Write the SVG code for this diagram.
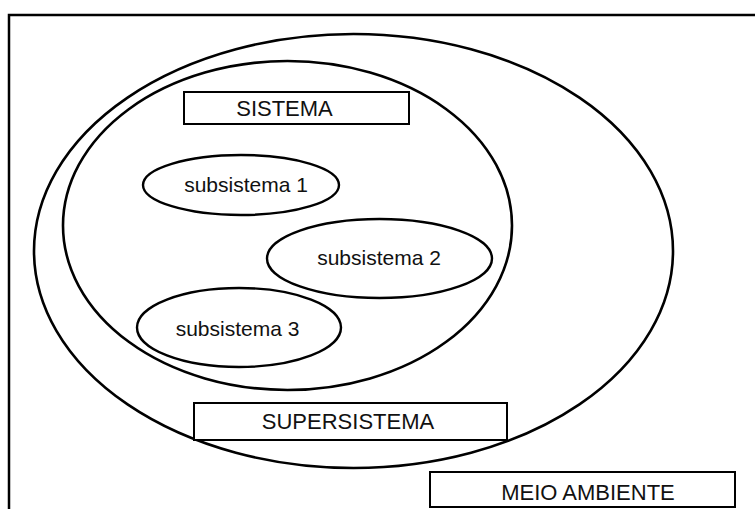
<svg xmlns="http://www.w3.org/2000/svg" width="755" height="509" viewBox="0 0 755 509">
  <style>
    .frame { fill: none; stroke: #000; stroke-width: 2.5; }
    .ring { fill: none; stroke: #000; stroke-width: 2.6; }
    .sub { fill: #fff; stroke: #000; stroke-width: 2.4; }
    .box { fill: #fff; stroke: #000; stroke-width: 2; }
    .lbl { font-family: "Liberation Sans", Arial, sans-serif; font-size: 22px; fill: #111; text-anchor: middle; }
    .sublbl { font-family: "Liberation Sans", Arial, sans-serif; font-size: 21px; fill: #111; text-anchor: middle; }
  </style>
  <rect width="755" height="509" fill="#fff"/>

  <!-- environment frame, running off the right and bottom edges -->
  <g id="meio-ambiente-frame">
    <rect class="frame" x="9" y="15" width="760" height="510"/>
  </g>

  <!-- supersystem boundary -->
  <g id="supersistema">
    <ellipse class="ring" cx="353.5" cy="251" rx="319.5" ry="217"/>
  </g>

  <!-- system boundary -->
  <g id="sistema">
    <ellipse class="ring" cx="287.5" cy="225.5" rx="224.5" ry="164.5"/>
  </g>

  <g id="label-sistema">
    <rect class="box" x="184" y="92" width="225" height="32"/>
    <text class="lbl" x="284.5" y="116">SISTEMA</text>
  </g>

  <g id="subsistema-1">
    <ellipse class="sub" cx="241" cy="185" rx="98" ry="30"/>
    <text class="sublbl" x="246" y="192">subsistema 1</text>
  </g>

  <g id="subsistema-2">
    <ellipse class="sub" cx="379.5" cy="258.5" rx="112.5" ry="39.5"/>
    <text class="sublbl" x="379" y="265">subsistema 2</text>
  </g>

  <g id="subsistema-3">
    <ellipse class="sub" cx="239" cy="327.5" rx="102" ry="39.5"/>
    <text class="sublbl" x="237.5" y="336">subsistema 3</text>
  </g>

  <g id="label-supersistema">
    <rect class="box" x="194" y="403" width="313" height="37"/>
    <text class="lbl" x="348" y="429">SUPERSISTEMA</text>
  </g>

  <g id="label-meio-ambiente">
    <rect class="box" x="430" y="472" width="305" height="35"/>
    <text class="lbl" x="588" y="500">MEIO AMBIENTE</text>
  </g>

  <g id="connectors"/>
</svg>
